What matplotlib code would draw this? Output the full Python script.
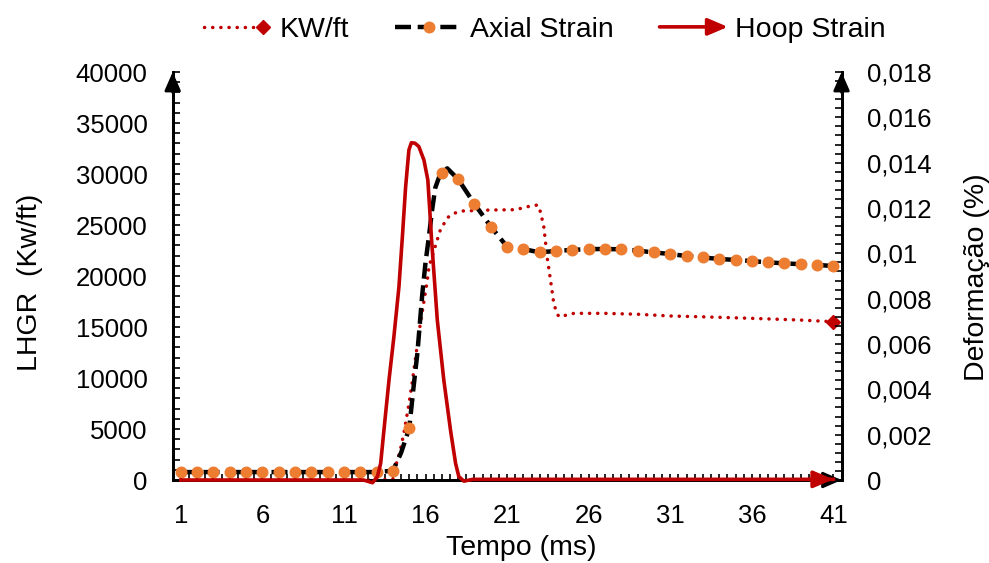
import numpy as np
import matplotlib
matplotlib.use("Agg")
import matplotlib.pyplot as plt
from matplotlib.lines import Line2D
from matplotlib.patches import FancyArrowPatch
from matplotlib.legend_handler import HandlerBase
from matplotlib.ticker import MultipleLocator, FixedLocator, FixedFormatter

plt.rcParams['font.family'] = ['Liberation Sans', 'DejaVu Sans']

RED = "#C00000"
ORANGE = "#ED7D31"
KW_DASH = (0, (0.05, 2.3))
AX_DASH = (0, (3.6, 1.5))

# KW/ft (left axis), time in ms
kw_t = [1, 13, 14.0, 14.06, 14.43, 14.67, 14.98, 15.19, 15.6, 16.11, 16.21, 16.62,
        16.92, 17.37, 17.74, 18.19, 18.72, 20, 21.5, 22.43, 22.88, 23.04, 23.25,
        23.45, 23.66, 23.86, 24.02, 24.17, 24.68, 25.09, 27, 29, 31, 33, 36, 39, 41]
kw_val = [0, 0, 100, 810, 2780, 4580, 7450, 9640, 14500, 19600, 20910, 23040,
          24580, 25750, 26140, 26370, 26400, 26470, 26500, 26860, 26960, 26300, 24830,
          21890, 19610, 17320, 16500, 16010, 16180, 16340, 16340, 16250, 16080, 16000,
          15850, 15680, 15520]

# Axial strain (right axis)
axial_t = [1, 2, 3, 4, 5, 6, 7, 8, 9, 10, 11, 12, 13, 14, 14.5, 15, 15.25, 15.5,
           15.8, 16, 16.2, 16.4, 16.6, 16.9, 17, 17.33, 18, 19, 20, 21, 22, 23, 24,
           25, 26, 27, 28, 29, 30, 31, 32, 33, 34, 35, 36, 37, 38, 39, 40, 41]
axial_val = [0.00035] * 13 + [0.00041, 0.0012, 0.00228, 0.0040, 0.0056,
             0.0082, 0.0096, 0.0107, 0.0119, 0.0129, 0.0135, 0.01356, 0.01375,
             0.01327, 0.01218, 0.01118, 0.01029, 0.01019, 0.01004, 0.01011,
             0.01015, 0.01019, 0.01019, 0.01018, 0.01012, 0.01004, 0.00997,
             0.00988, 0.00982, 0.00975, 0.00971, 0.00966, 0.00960, 0.00956,
             0.00952, 0.00949, 0.00944]

# Hoop strain (right axis)
hoop_t = [1, 12.2, 12.75, 13.05, 13.25, 13.45, 13.76, 14.06, 14.37, 14.58, 14.78,
          14.98, 15.13, 15.35, 15.59, 15.9, 16.14, 16.27, 16.37, 16.72, 17.12, 17.53,
          17.84, 18.04, 18.35, 18.9, 41]
hoop_val = [0, 0, -0.00012, 0.00015, 0.00074, 0.0022, 0.00441, 0.00632, 0.00853,
            0.01073, 0.01294, 0.01456, 0.01488, 0.01486, 0.01471, 0.01412, 0.01324,
            0.01178, 0.01059, 0.00706, 0.00441, 0.0022, 0.00074, 0.00015, -0.00005,
            0.00003, 0.00003]

x_ticks = [1, 6, 11, 16, 21, 26, 31, 36, 41]
left_ticks = [0, 5000, 10000, 15000, 20000, 25000, 30000, 35000, 40000]
right_ticks = [0, 0.002, 0.004, 0.006, 0.008, 0.01, 0.012, 0.014, 0.016, 0.018]
right_labels = ["0", "0,002", "0,004", "0,006", "0,008", "0,01", "0,012",
                "0,014", "0,016", "0,018"]

TICK_FS = 18.5
LAB_FS = 20.5
LEG_FS = 20.5
ARROW_STYLE = "-|>,head_length=0.75,head_width=0.32"


class EndHandler(HandlerBase):
    # legend line with a diamond or an arrow head at its right end
    def __init__(self, end, ls=None, **kw):
        self.end = end
        self.ls = ls
        super().__init__(**kw)

    def create_artists(self, legend, orig, xd, yd, w, h, fs, trans):
        y = h / 2 - yd
        x0, x1 = -xd, w - xd
        if self.end == "arrow":
            a = FancyArrowPatch((x0, y), (x1, y), arrowstyle=ARROW_STYLE,
                                mutation_scale=16, color=orig.get_color(),
                                lw=orig.get_linewidth(), shrinkA=0, shrinkB=0)
            a.set_transform(trans)
            return [a]
        ln = Line2D([x0, x1 - 12], [y, y], color=orig.get_color(),
                    lw=orig.get_linewidth(), ls=self.ls, dash_capstyle="round")
        ln.set_transform(trans)
        mk = Line2D([x1 - 7], [y], marker="D", ms=6.8, color=orig.get_color(), ls="none")
        mk.set_transform(trans)
        return [ln, mk]


fig = plt.figure(figsize=(9.89, 5.63), dpi=100)
ax = fig.add_axes([0.1746, 0.1474, 0.6763, 0.7247])
ax2 = ax.twinx()

kw_line, = ax.plot(kw_t, kw_val, color=RED, lw=2.5, ls=KW_DASH,
                   dash_capstyle="round", marker="D", ms=6.8,
                   markevery=[len(kw_t) - 1], clip_on=False, zorder=3)

mark_idx = [i for i, t in enumerate(axial_t) if float(t).is_integer() and t != 16]
ax_line, = ax2.plot(axial_t, axial_val, color="black", lw=3.2, ls=AX_DASH,
                    marker="o", ms=7.6, mfc=ORANGE, mec=ORANGE,
                    markevery=mark_idx, clip_on=False, zorder=3)

hoop_line, = ax2.plot(hoop_t, hoop_val, color=RED, lw=2.6, clip_on=False, zorder=4,
                      solid_joinstyle="round")
ax2.annotate("", xy=(hoop_t[-1], hoop_val[-1]), xytext=(hoop_t[-1] - 1.5, hoop_val[-1]),
             arrowprops=dict(arrowstyle=ARROW_STYLE, mutation_scale=16, color=RED,
                             lw=2.6, shrinkA=0, shrinkB=0), zorder=5)

# axes
ax.set_xlim(0.5, 41.5)
ax.set_ylim(0, 40000)
ax2.set_ylim(0, 0.018)
ax.set_xticks(x_ticks)
ax.xaxis.set_minor_locator(MultipleLocator(0.5))
ax.set_yticks(left_ticks)
ax.set_yticklabels([str(v) for v in left_ticks])
ax.yaxis.set_minor_locator(MultipleLocator(1000))
ax2.yaxis.set_major_locator(FixedLocator(right_ticks))
ax2.yaxis.set_major_formatter(FixedFormatter(right_labels))
ax2.yaxis.set_minor_locator(MultipleLocator(0.0004))

ax.tick_params(axis="x", which="both", direction="in", length=4.5, width=1.2,
               pad=17, labelsize=TICK_FS)
ax.tick_params(axis="y", which="both", direction="in", length=5, width=1.2,
               pad=18, labelsize=TICK_FS)
ax2.tick_params(axis="y", which="both", direction="in", length=5, width=1.2,
                pad=18, labelsize=TICK_FS)

for a in (ax, ax2):
    a.spines["top"].set_visible(False)
    for s in ("left", "right", "bottom"):
        a.spines[s].set_linewidth(2)

arrow_kw = dict(arrowstyle="-|>,head_length=0.8,head_width=0.35", color="black",
                lw=2, mutation_scale=14, shrinkA=0, shrinkB=0)
for pos in (0, 1):
    ax2.annotate("", xy=(pos, 1.0), xytext=(pos, 0.95), xycoords="axes fraction",
                 arrowprops=arrow_kw, annotation_clip=False)
ax2.annotate("", xy=(1.0, 0), xytext=(0.95, 0), xycoords="axes fraction",
             arrowprops=arrow_kw, annotation_clip=False, zorder=2)

fig.text(0.030, 0.499, "LHGR  (Kw/ft)", rotation=90, ha="center", va="center",
         fontsize=LAB_FS)
fig.text(0.988, 0.508, "Deformação (%)", rotation=90, ha="center", va="center",
         fontsize=LAB_FS)
fig.text(0.527, 0.004, "Tempo (ms)", ha="center", va="bottom", fontsize=LAB_FS)

fig.legend([kw_line, ax_line, hoop_line], ["KW/ft", "Axial Strain", "Hoop Strain"],
           handler_map={kw_line: EndHandler("diamond", ls=KW_DASH),
                        hoop_line: EndHandler("arrow")},
           loc="center", bbox_to_anchor=(0.551, 0.947), ncol=3, frameon=False,
           fontsize=LEG_FS, handlelength=2.4, handletextpad=0.25, columnspacing=1.6,
           numpoints=1)

fig.savefig("out.png", dpi=100)
